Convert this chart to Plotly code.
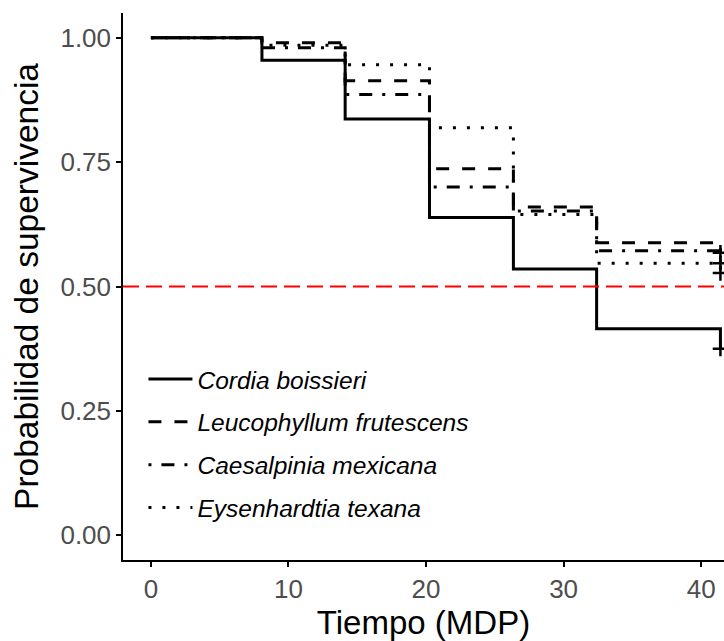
import plotly.graph_objects as go

# Data
time = [0, 8.07, 14.12, 20.25, 26.35, 32.4, 41.4]
species = ["Cordia boissieri", "Leucophyllum frutescens", "Caesalpinia mexicana", "Eysenhardtia texana"]
surv_cordia = [1.0, 0.955, 0.837, 0.639, 0.535, 0.415, 0.375]
surv_leuco = [1.0, 0.990, 0.914, 0.737, 0.660, 0.588, 0.568]
surv_caesal = [1.0, 0.980, 0.886, 0.700, 0.652, 0.572, 0.547]
surv_eysen = [1.0, 0.985, 0.946, 0.819, 0.645, 0.547, 0.527]
censor_time = 41.4
x_ticks = [0, 10, 20, 30, 40]
y_ticks = [0.0, 0.25, 0.50, 0.75, 1.00]
y_tick_labels = ["0.00", "0.25", "0.50", "0.75", "1.00"]
median_line = 0.5

series = [surv_cordia, surv_leuco, surv_caesal, surv_eysen]
dashes = ["solid", "13px,13px", "3px,10px,13px,10px", "3px,11px"]

FONT = "Liberation Sans, Arial, sans-serif"
fig = go.Figure()
for i, (name, s, d) in enumerate(zip(species, series, dashes)):
    fig.add_trace(go.Scatter(
        x=time, y=s, mode="lines", line=dict(shape="hv", color="black", width=3, dash=d),
        name=name, legendgroup=f"g{i}",
    ))
for i, s in enumerate(series):
    fig.add_trace(go.Scatter(
        x=[censor_time], y=[s[-1]], mode="markers", showlegend=False, legendgroup=f"g{i}",
        marker=dict(symbol="cross-thin", size=11, line=dict(color="black", width=2.5)),
        hoverinfo="skip",
    ))

fig.add_shape(type="line", xref="paper", x0=0, x1=1, yref="y", y0=median_line, y1=median_line,
              line=dict(color="red", width=2, dash="16px,7px"))

fig.update_layout(
    width=724, height=641,
    margin=dict(l=123, r=0, t=13, b=81),
    paper_bgcolor="white", plot_bgcolor="white",
    font=dict(family=FONT, color="black"),
    showlegend=True,
    legend=dict(
        x=0.034, y=0.372, xanchor="left", yanchor="top",
        bgcolor="rgba(0,0,0,0)", font=dict(size=24.5, family=FONT, color="black", style="italic"),
        tracegroupgap=8, itemwidth=44,
    ),
    xaxis=dict(
        range=[-2.03, 41.66], tickvals=x_ticks, showgrid=False, zeroline=False,
        showline=True, linecolor="black", linewidth=1.5, ticks="outside", ticklen=5,
        tickcolor="black", tickwidth=1.5,
        tickfont=dict(size=26, color="#4D4D4D", family=FONT),
        title=dict(text="Tiempo (MDP)", font=dict(size=33, color="black", family=FONT), standoff=0),
    ),
    yaxis=dict(
        range=[-0.05, 1.05], tickvals=y_ticks, ticktext=y_tick_labels, showgrid=False, zeroline=False,
        showline=True, linecolor="black", linewidth=1.5, ticks="outside", ticklen=5,
        tickcolor="black", tickwidth=1.5,
        tickfont=dict(size=26, color="#4D4D4D", family=FONT),
        title=dict(text="Probabilidad de supervivencia", font=dict(size=33.5, color="black", family=FONT), standoff=12),
    ),
)

fig.write_html("out.html")
